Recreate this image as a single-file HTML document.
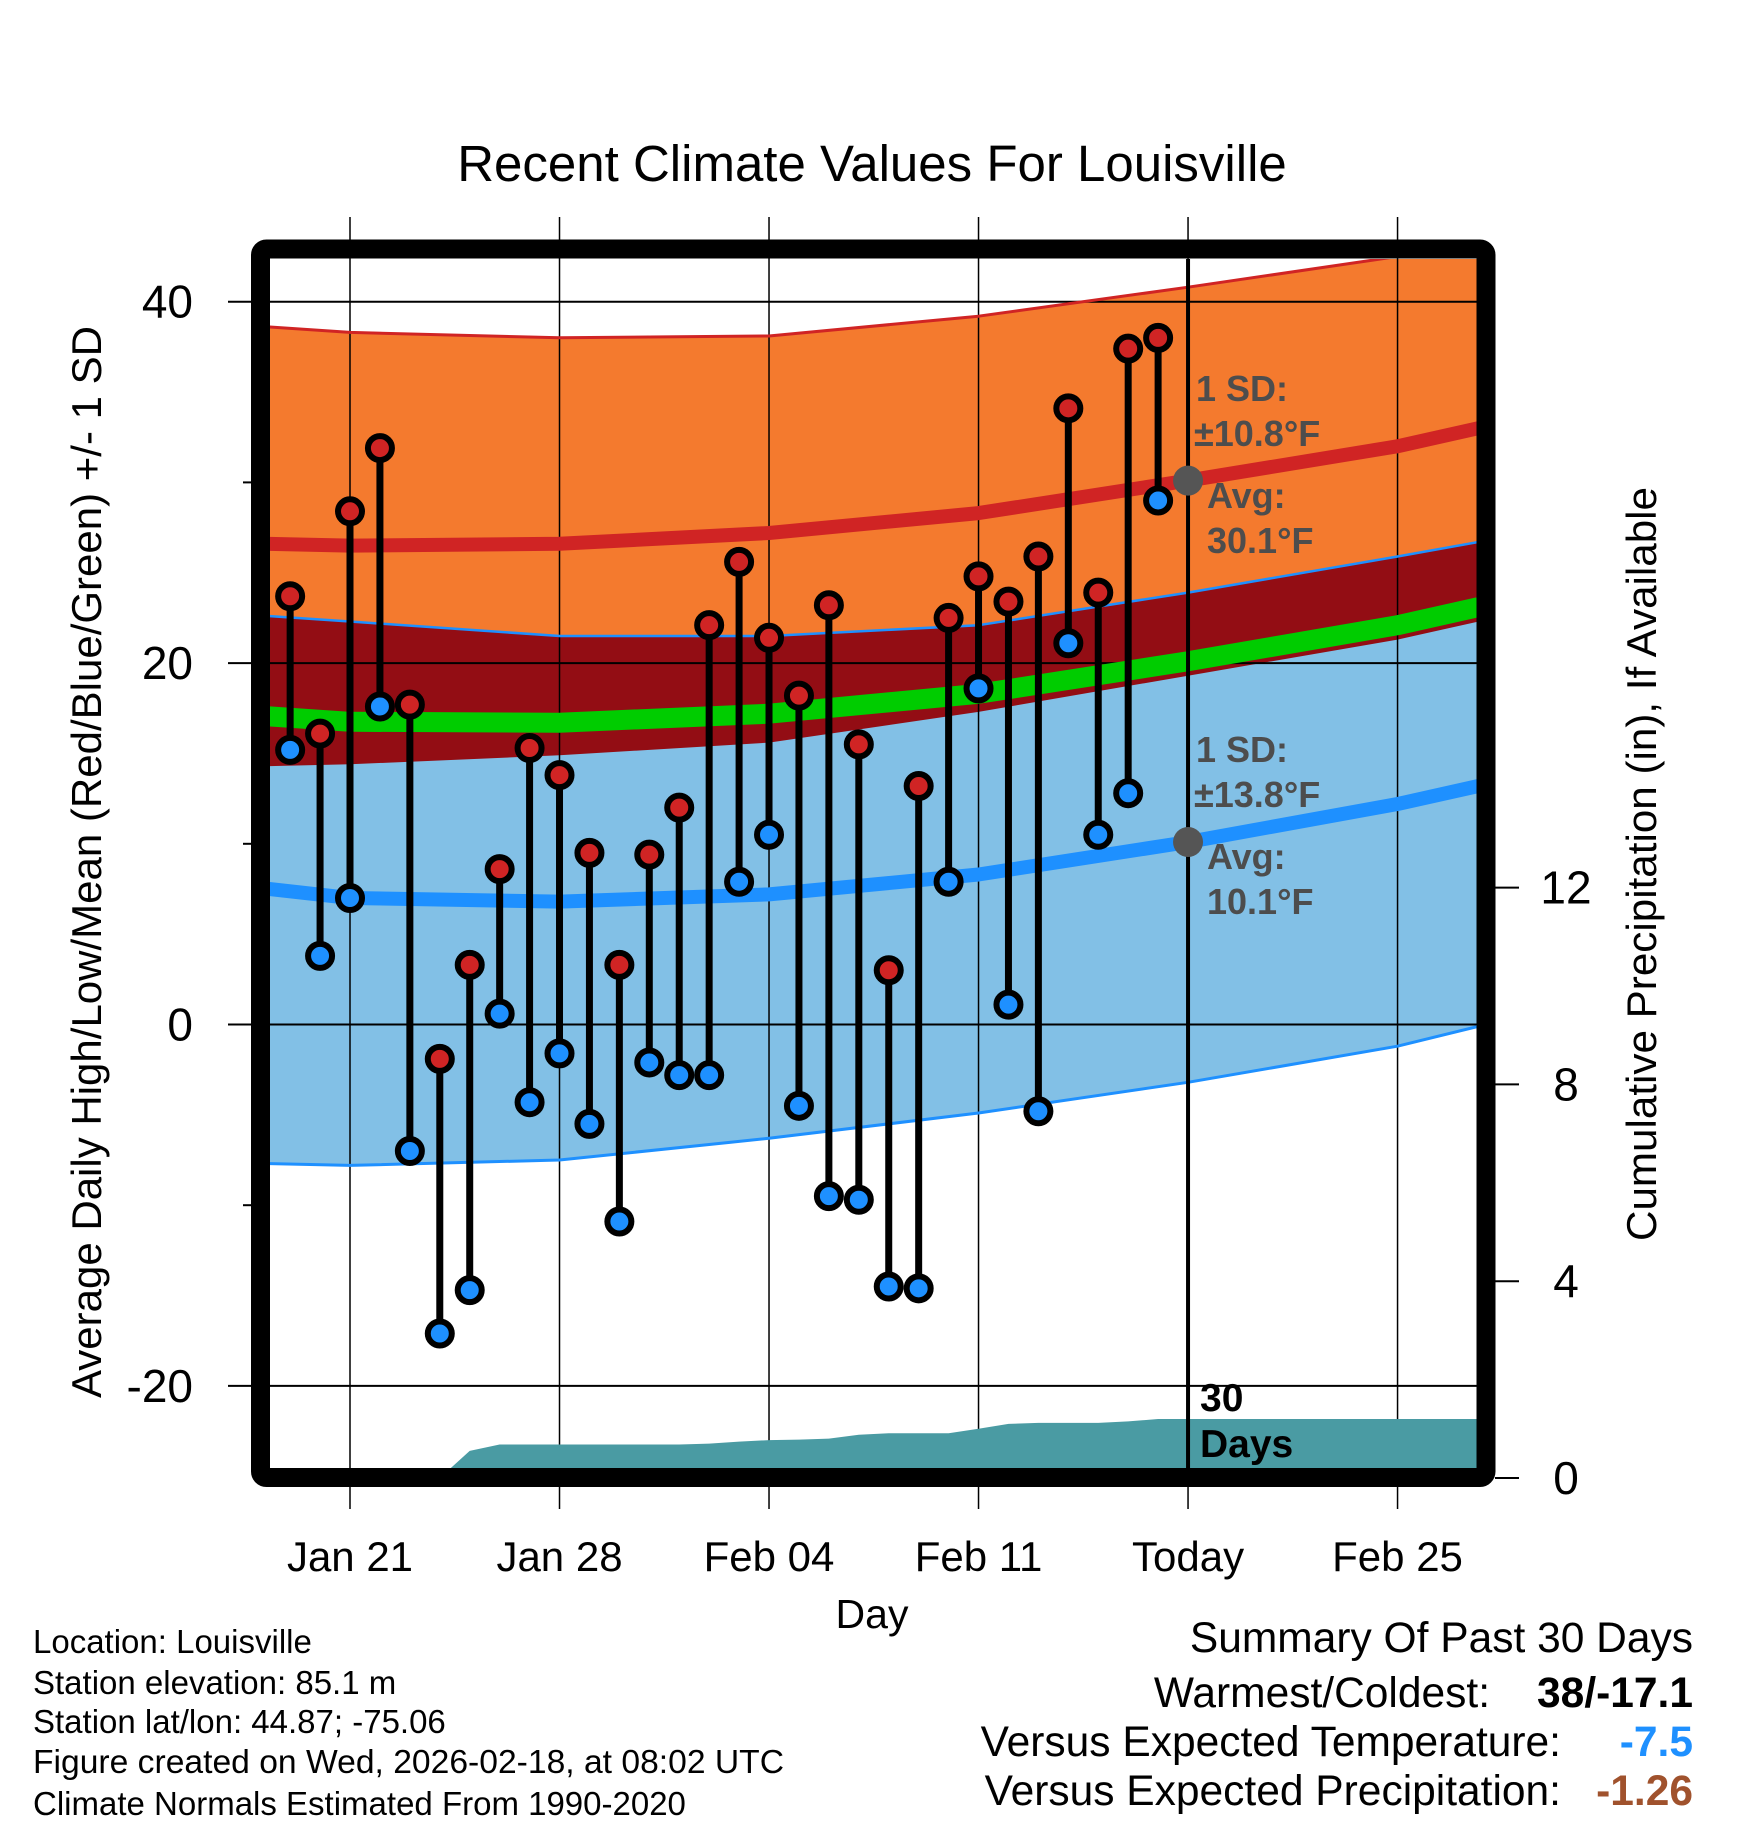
<!DOCTYPE html>
<html><head><meta charset="utf-8">
<style>
html,body{margin:0;padding:0;background:#fff;}
svg{display:block;font-family:"Liberation Sans",Arial,sans-serif;}
</style></head>
<body>
<svg id="chart" xmlns="http://www.w3.org/2000/svg" width="1748" height="1828" viewBox="0 0 1748 1828">
<defs><clipPath id="plotclip"><rect x="270" y="259" width="1207" height="1209"/></clipPath></defs>
<rect x="0" y="0" width="1748" height="1828" fill="#fff"/>
<text x="872" y="181" font-size="51" text-anchor="middle">Recent Climate Values For Louisville</text>
<g id="fills" clip-path="url(#plotclip)"></g>
<g id="grid"></g>
<g id="precip" clip-path="url(#plotclip)"></g>
<g id="lines" clip-path="url(#plotclip)"></g>
<g id="marks"></g>
<rect x="260.5" y="249" width="1225.5" height="1228.5" rx="6" fill="none" stroke="#000" stroke-width="19"/>
<g id="axes"></g>
<g fill="#4d4d4d" font-weight="bold" font-size="36">
<text x="1196" y="401">1 SD:</text>
<text x="1194" y="446">±10.8°F</text>
<text x="1207" y="508">Avg:</text>
<text x="1207" y="553">30.1°F</text>
</g>
<g fill="#4d4d4d" font-weight="bold" font-size="36">
<text x="1196" y="762">1 SD:</text>
<text x="1194" y="807">±13.8°F</text>
<text x="1207" y="869">Avg:</text>
<text x="1207" y="914">10.1°F</text>
</g>
<g font-weight="bold" font-size="39" fill="#000">
<text x="1200" y="1411">30</text>
<text x="1200" y="1457">Days</text>
</g>
<text transform="translate(101,862) rotate(-90)" font-size="42" text-anchor="middle" textLength="1072" lengthAdjust="spacingAndGlyphs">Average Daily High/Low/Mean (Red/Blue/Green) +/- 1 SD</text>
<text transform="translate(1656,864) rotate(-90)" font-size="42" text-anchor="middle" textLength="754" lengthAdjust="spacingAndGlyphs">Cumulative Precipitation (in), If Available</text>
<text x="872" y="1628" font-size="41" text-anchor="middle">Day</text>
<g font-size="33" fill="#000">
<text x="33" y="1653">Location: Louisville</text>
<text x="33" y="1694">Station elevation: 85.1 m</text>
<text x="33" y="1733">Station lat/lon: 44.87; -75.06</text>
<text x="33" y="1773" textLength="751" lengthAdjust="spacingAndGlyphs">Figure created on Wed, 2026-02-18, at 08:02 UTC</text>
<text x="33" y="1815">Climate Normals Estimated From 1990-2020</text>
</g>
<g font-size="42.5" fill="#000">
<text x="1693" y="1652" text-anchor="end">Summary Of Past 30 Days</text>
<text x="1490" y="1707" text-anchor="end">Warmest/Coldest:</text>
<text x="1693" y="1707" text-anchor="end" font-weight="bold">38/-17.1</text>
<text x="1561" y="1756" text-anchor="end">Versus Expected Temperature:</text>
<text x="1693" y="1756" text-anchor="end" font-weight="bold" fill="#1e90ff">-7.5</text>
<text x="1561" y="1805" text-anchor="end">Versus Expected Precipitation:</text>
<text x="1693" y="1805" text-anchor="end" font-weight="bold" fill="#a0522d">-1.26</text>
</g>
</svg>
<script>
// day index 0 = Jan 21
const obsDays = [-2,-1,0,1,2,3,4,5,6,7,8,9,10,11,12,13,14,15,16,17,18,19,20,21,22,23,24,25,26,27];
const highs = [23.7,16.1,28.4,31.9,17.7,-1.9,3.3,8.6,15.3,13.8,9.5,3.3,9.4,12.0,22.1,25.6,21.4,18.2,23.2,15.5,3.0,13.2,22.5,24.8,23.4,25.9,34.1,23.9,37.4,38.0];
const lows = [15.2,3.8,7.0,17.6,-7.0,-17.1,-14.7,0.6,-4.3,-1.6,-5.5,-10.9,-2.1,-2.8,-2.8,7.9,10.5,-4.5,-9.5,-9.7,-14.5,-14.6,7.9,18.6,1.1,-4.8,21.1,10.5,12.8,29.0];
const normDays = [-2.7,0,7,14,21,28,35,37.7];
const normHighUpper = [38.6,38.3,38.0,38.1,39.2,40.8,42.5,43.2];
const normHighMean = [26.6,26.5,26.6,27.2,28.3,30.1,32.0,33.0];
const normHighLower = [14.3,14.4,14.9,15.6,17.3,19.3,21.3,22.3];
const normLowUpper = [22.6,22.3,21.5,21.5,22.1,23.9,25.9,26.7];
const normLowMean = [7.5,7.0,6.8,7.2,8.3,10.1,12.2,13.2];
const normLowLower = [-7.7,-7.8,-7.5,-6.3,-4.9,-3.2,-1.2,-0.1];
const precipDays = [-2,-1,0,1,2,3,4,5,6,7,8,9,10,11,12,13,14,15,16,17,18,19,20,21,22,23,24,25,26,27,38];
const precipCum = [0,0,0,0,0,0,0.55,0.68,0.68,0.68,0.68,0.68,0.68,0.68,0.70,0.74,0.77,0.78,0.80,0.88,0.91,0.91,0.91,1.00,1.10,1.12,1.12,1.12,1.15,1.20,1.20];
const yTicks = [40,20,0,-20];
const yMinor = [30,10,-10];
const y2Ticks = [0,4,8,12];
const xTickDays = [0,7,14,21,28,35];
const xTickLabels = ["Jan 21","Jan 28","Feb 04","Feb 11","Today","Feb 25"];
const todayDay = 28;

const NS="http://www.w3.org/2000/svg";
const X = d => 350 + d*29.93;
const Y = t => 1024.5 - t*18.07;
const Y2 = p => 1478 - p*49.2;
function mk(tag, attrs, parent){const e=document.createElementNS(NS,tag);for(const k in attrs)e.setAttribute(k,attrs[k]);parent.appendChild(e);return e;}
const fills=document.getElementById('fills'), grid=document.getElementById('grid'), pr=document.getElementById('precip'), lines=document.getElementById('lines'), marks=document.getElementById('marks'), axes=document.getElementById('axes');
function pts(days, vals, f){return days.map((d,i)=>X(d).toFixed(1)+','+f(vals[i]).toFixed(1));}
function band(up, lo, color, name){
  const p = pts(normDays, up, Y).concat(pts(normDays, lo, Y).reverse());
  const e = mk('polygon',{points:p.join(' '),fill:color},fills);
  
  
}
band(normHighUpper, normHighLower, '#f47a2e', 'high-sd-band');
band(normLowUpper, normLowLower, '#82c0e6', 'low-sd-band');
band(normLowUpper, normHighLower, '#930d14', 'overlap-band');
yTicks.forEach(t=>{
  const l=mk('line',{x1:228,x2:1477,y1:Y(t),y2:Y(t),stroke:'#000','stroke-width':2},grid);
  
  
  const tx=mk('text',{x:193,y:Y(t)+16,'font-size':46,'text-anchor':'end'},axes);
  tx.textContent=t;
  
  
});
yMinor.forEach(t=>{
  const l=mk('line',{x1:243,x2:252,y1:Y(t),y2:Y(t),stroke:'#000','stroke-width':2},grid);
  
  
});
xTickDays.forEach((d,i)=>{
  const l=mk('line',{x1:X(d),x2:X(d),y1:217,y2:1509,stroke:'#000','stroke-width':1.5},grid);
  
  
  const tx=mk('text',{x:X(d),y:1571,'font-size':42,'text-anchor':'middle'},axes);
  tx.textContent=xTickLabels[i];
  
  
});
y2Ticks.forEach(p=>{
  const l=mk('line',{x1:1495,x2:1519,y1:Y2(p),y2:Y2(p),stroke:'#000','stroke-width':2},axes);
  
  
  const tx=mk('text',{x:1566,y:Y2(p)+16,'font-size':46,'text-anchor':'middle'},axes);
  tx.textContent=p;
  
  
});
{
  const p=pts(precipDays, precipCum, Y2);
  p.push(X(precipDays[precipDays.length-1]).toFixed(1)+','+Y2(0)); p.push(X(precipDays[0]).toFixed(1)+','+Y2(0));
  const e=mk('polygon',{points:p.join(' '),fill:'#4a9ba3'},pr);
  
  
}
function line(vals, color, w, name){
  const e=mk('polyline',{points:pts(normDays, vals, Y).join(' '),fill:'none',stroke:color,'stroke-width':w,'stroke-linejoin':'round'},lines);
  
  
}
line(normHighUpper,'#d02424',3,'high-upper-line');
line(normLowUpper,'#1e90ff',2.5,'low-upper-line');
line(normLowLower,'#1e90ff',3,'low-lower-line');
const normMean = normHighMean.map((v,i)=>(v+normLowMean[i])/2);
line(normMean,'#00cc00',20,'normal-mean-band');
line(normHighMean,'#d02424',14,'normal-high-line');
line(normLowMean,'#1e90ff',14,'normal-low-line');
{
  const t=mk('line',{x1:X(todayDay),x2:X(todayDay),y1:259,y2:1468,stroke:'#000','stroke-width':4},lines);
  
  
  const hi=normHighMean[5], lo=normLowMean[5];
  const c1=mk('circle',{cx:X(todayDay),cy:Y(hi),r:15,fill:'#555'},lines);
  
  
  const c2=mk('circle',{cx:X(todayDay),cy:Y(lo),r:15,fill:'#555'},lines);
  
  
}
obsDays.forEach((d,i)=>{
  const s=mk('line',{x1:X(d),x2:X(d),y1:Y(highs[i]),y2:Y(lows[i]),stroke:'#000','stroke-width':7},marks);
  
  
  const h=mk('circle',{cx:X(d),cy:Y(highs[i]),r:12,fill:'#d02424',stroke:'#000','stroke-width':6},marks);
  
  
  const l=mk('circle',{cx:X(d),cy:Y(lows[i]),r:12,fill:'#1e90ff',stroke:'#000','stroke-width':6},marks);
  
  
});
</script>
</body></html>
